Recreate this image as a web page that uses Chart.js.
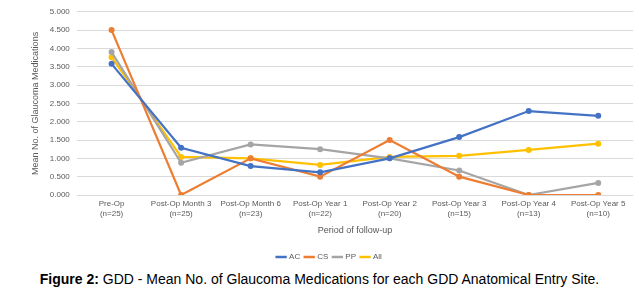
<!DOCTYPE html>
<html>
<head>
<meta charset="utf-8">
<script src="https://cdn.jsdelivr.net/npm/chart.js@4.4.1/dist/chart.umd.min.js"></script>
<style>
  body { margin: 0; background: #fff; }
  #wrap { position: relative; width: 639px; height: 271px; }
  #cap { position: absolute; top: 271px; left: 0; width: 639px; text-align: center; font-family: "Liberation Sans", Arial, sans-serif; font-size: 14px; color: #000; }
</style>
</head>
<body>
<div id="wrap"><canvas id="grafico"></canvas></div>
<div id="cap"><b>Figure 2:</b> GDD - Mean No. of Glaucoma Medications for each GDD Anatomical Entry Site.</div>
<script>
const periodos = [["Pre-Op","(n=25)"],["Post-Op Month 3","(n=25)"],["Post-Op Month 6","(n=23)"],["Post-Op Year 1","(n=22)"],["Post-Op Year 2","(n=20)"],["Post-Op Year 3","(n=15)"],["Post-Op Year 4","(n=13)"],["Post-Op Year 5","(n=10)"]];
const valoresAC = [3.58, 1.29, 0.79, 0.62, 1.00, 1.58, 2.29, 2.16];
const valoresCS = [4.50, 0.00, 1.00, 0.50, 1.50, 0.50, 0.00, 0.00];
const valoresPP = [3.90, 0.88, 1.38, 1.25, 1.00, 0.67, 0.00, 0.33];
const valoresAll = [3.76, 1.04, 1.00, 0.82, 1.04, 1.07, 1.23, 1.40];

const fonte = "'Liberation Sans', Arial, sans-serif";
const cinza = '#595959';

function serie(nome, dados, cor) {
    return { label: nome, data: dados, borderColor: cor, backgroundColor: cor, borderWidth: 2.2, pointRadius: 3, pointBorderWidth: 0, pointStyle: 'circle', tension: 0 };
}

new Chart(document.getElementById('grafico'), {
    type: 'line',
    data: {
        labels: periodos,
        datasets: [
            serie('AC', valoresAC, '#4472C4'),
            serie('CS', valoresCS, '#ED7D31'),
            serie('PP', valoresPP, '#A5A5A5'),
            serie('All', valoresAll, '#FFC000')
        ]
    },
    options: {
        responsive: true, maintainAspectRatio: false, animation: false,
        layout: { padding: { top: 6, right: 6, left: 26, bottom: 0 } },
        plugins: {
            legend: {
                position: 'bottom',
                labels: {
                    usePointStyle: true, pointStyle: 'line', boxWidth: 22, color: cinza, font: { size: 8, family: fonte }, padding: 5,
                    generateLabels: (chart) => chart.data.datasets.map((ds, i) => ({
                        text: ds.label, fillStyle: ds.borderColor, strokeStyle: ds.borderColor, lineWidth: 2.5,
                        pointStyle: 'line', fontColor: cinza, hidden: false, datasetIndex: i
                    }))
                }
            },
            tooltip: { enabled: false }
        },
        scales: {
            x: {
                offset: true,
                grid: { display: false, drawTicks: false },
                border: { display: false },
                ticks: { color: cinza, font: { size: 8, family: fonte }, maxRotation: 0, autoSkip: false, padding: 4 },
                title: { display: true, text: 'Period of follow-up', color: cinza, font: { size: 9, family: fonte }, padding: { top: 3, bottom: 12 } }
            },
            y: {
                min: 0, max: 5,
                grid: { color: '#D9D9D9', drawTicks: false },
                border: { display: false },
                ticks: { stepSize: 0.5, color: cinza, font: { size: 8, family: fonte }, padding: 7, callback: v => v.toFixed(3) },
                title: { display: true, text: 'Mean No. of Glaucoma Medications', color: cinza, font: { size: 9, family: fonte }, padding: { bottom: 2 } }
            }
        }
    }
});
</script>
</body>
</html>
